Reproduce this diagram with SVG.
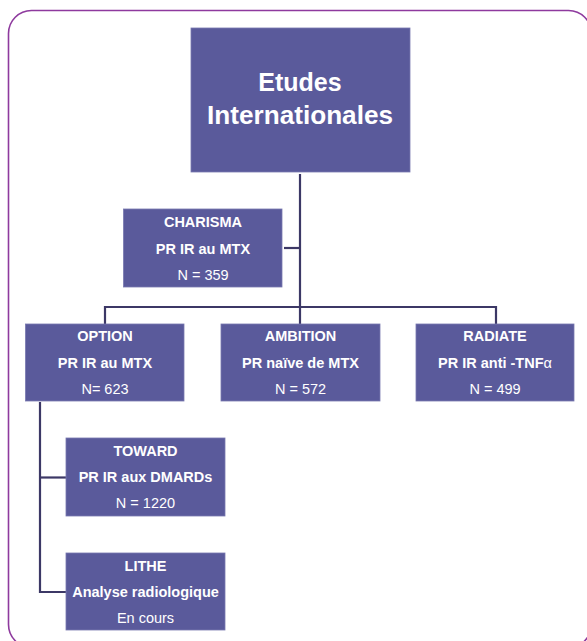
<svg xmlns="http://www.w3.org/2000/svg" width="587" height="641" viewBox="0 0 587 641">
<style>
.box{fill:#5a5a9b;stroke:#7878b0;stroke-width:0.8}
.t{font-family:"Liberation Sans",Arial,sans-serif;fill:#ffffff;text-anchor:middle;font-size:14.5px}
.b{font-weight:bold}
.big{font-size:25px;font-weight:bold}
.conn{fill:none;stroke:#3c3866;stroke-width:2.2}
</style>
<rect x="0" y="0" width="587" height="641" fill="#ffffff"/>
<rect x="8.5" y="10.5" width="583" height="637" rx="23" ry="23" fill="none" stroke="#8e3a9e" stroke-width="1.6"/>
<g id="connectors" class="conn">
<path d="M300,174 V324"/>
<path d="M284,248 H300"/>
<path d="M105,324 V307 H496 V324"/>
<path d="M40,402 V592 H66"/>
<path d="M40,477.5 H66"/>
</g>
<g id="etudes">
<rect class="box" x="191" y="28" width="219" height="144"/>
<text class="t big" x="300" y="91">Etudes</text>
<text class="t big" x="300" y="124" textLength="186" lengthAdjust="spacingAndGlyphs">Internationales</text>
</g>
<g id="charisma">
<rect class="box" x="123.5" y="209" width="158.5" height="78"/>
<text class="t b" x="203" y="227">CHARISMA</text>
<text class="t b" x="203" y="253.5">PR IR au MTX</text>
<text class="t" x="203" y="279.5">N = 359</text>
</g>
<g id="option">
<rect class="box" x="25.5" y="324" width="158.5" height="77"/>
<text class="t b" x="105" y="341">OPTION</text>
<text class="t b" x="105" y="367.5">PR IR au MTX</text>
<text class="t" x="105" y="394">N= 623</text>
</g>
<g id="ambition">
<rect class="box" x="221" y="324" width="159" height="77"/>
<text class="t b" x="300.5" y="341">AMBITION</text>
<text class="t b" x="300.5" y="367.5">PR naïve de MTX</text>
<text class="t" x="300.5" y="394">N = 572</text>
</g>
<g id="radiate">
<rect class="box" x="416" y="324" width="158" height="77"/>
<text class="t b" x="495" y="341">RADIATE</text>
<text class="t b" x="495" y="367.5">PR IR anti -TNF<tspan font-weight="normal">α</tspan></text>
<text class="t" x="495" y="394">N = 499</text>
</g>
<g id="toward">
<rect class="box" x="66" y="438" width="159" height="78"/>
<text class="t b" x="145.5" y="455.5">TOWARD</text>
<text class="t b" x="145.5" y="482">PR IR aux DMARDs</text>
<text class="t" x="145.5" y="508">N = 1220</text>
</g>
<g id="lithe">
<rect class="box" x="66" y="553" width="159" height="77"/>
<text class="t b" x="145.5" y="570.5">LITHE</text>
<text class="t b" x="145.5" y="597">Analyse radiologique</text>
<text class="t" x="145.5" y="623">En cours</text>
</g>
</svg>
